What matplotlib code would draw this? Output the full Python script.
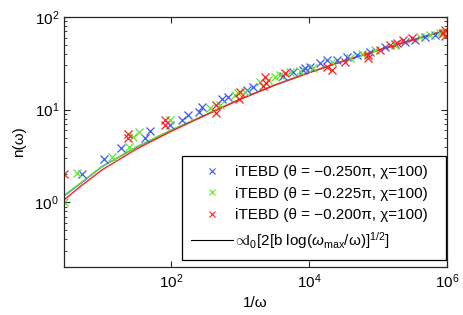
import numpy as np
import matplotlib
matplotlib.use('Agg')
import matplotlib.pyplot as plt
from matplotlib.lines import Line2D
from matplotlib.ticker import NullLocator

plt.rcParams['font.family'] = ['Liberation Sans', 'DejaVu Sans']
plt.rcParams['mathtext.fontset'] = 'custom'
plt.rcParams['mathtext.rm'] = 'Liberation Sans'
plt.rcParams['mathtext.it'] = 'Liberation Sans:italic'
plt.rcParams['mathtext.cal'] = 'Liberation Sans'

# iTEBD data, 1/omega vs n(omega)
blue_x = [5.13, 10.7, 18.8, 42.0, 49.6, 96.7, 144, 176, 254, 281, 548, 670, 1262, 1542,
          4200, 5860, 8190, 8750, 10300, 14400, 18200, 25500, 35600, 49600, 76600, 126000,
          176000, 246000, 344000, 480000, 670000, 875000]
blue_y = [2.0, 2.97, 3.90, 5.0, 5.95, 6.9, 7.8, 8.8, 9.5, 10.8, 13.1, 13.8, 16.4, 17.7,
          23.2, 25.6, 26.9, 28.3, 29.0, 32.0, 34.5, 34.5, 37.2, 39.0, 42.0, 47.6,
          51.3, 53.8, 56.6, 61.0, 64.0, 67.0]

green_x = [2.8, 4.35, 14.0, 24.6, 28.1, 34.4, 96.7, 367, 513, 847, 935, 1180, 1950, 2546,
           3215, 3800, 5310, 7410, 11400, 21500, 39300, 58600, 90600, 176000, 406000,
           568000, 793000, 936000]
green_y = [1.0, 2.05, 3.05, 4.0, 5.1, 5.8, 7.8, 10.5, 11.3, 14.5, 15.2, 15.6, 20.0, 21.0,
           22.6, 23.8, 25.6, 26.3, 28.3, 32.8, 36.3, 40.0, 44.0, 50.0, 61.0,
           64.0, 67.0, 69.0]

red_x = [2.8, 23.8, 23.8, 81.8, 81.8, 449, 449, 1000, 967, 2300, 2380, 2150, 4490,
         18200, 21500, 33200, 71600, 71600, 107000, 149000, 188000, 230000, 311000,
         875000, 936000, 936000]
red_y = [2.0, 5.5, 5.0, 7.8, 6.9, 11.3, 9.3, 15.6, 13.1, 22.6, 19.5, 18.1, 25.0,
         29.0, 26.9, 32.8, 39.0, 36.3, 44.0, 50.0, 52.5, 56.6, 59.4,
         67.0, 72.4, 62.5]

# fitted curves
curve_x = [2.8, 5, 10, 31.6, 100, 316, 1000, 3160, 1e4, 3.16e4, 1e5, 3.16e5, 1e6]
curve_blue = [1.17, 1.62, 2.43, 3.94, 5.97, 8.77, 13.0, 18.4, 25.1, 33.5, 43.7, 56.2, 72.4]
curve_green = [1.19, 1.64, 2.45, 3.98, 6.03, 8.81, 13.0, 18.4, 25.1, 33.5, 43.7, 56.2, 72.4]
curve_red = [1.06, 1.51, 2.24, 3.76, 5.82, 8.71, 12.9, 18.3, 25.0, 33.4, 43.7, 56.2, 72.8]

labels = ['iTEBD (θ = −0.250π, χ=100)',
          'iTEBD (θ = −0.225π, χ=100)',
          'iTEBD (θ = −0.200π, χ=100)']
fit_label = r'$\!\propto\!\!$I$_0$[2[b log($\omega_{\rm max}$/ω)]$^{1/2}$]'

c_blue = '#3a55ff'
c_green = '#5ee62a'
c_red = '#ff1f1f'

fig = plt.figure(figsize=(4.63, 3.15), dpi=100)
ax = fig.add_axes([0.138, 0.152, 0.827, 0.794])

ax.plot(curve_x, curve_blue, color=c_blue, lw=1.0)
ax.plot(curve_x, curve_green, color=c_green, lw=1.0)
ax.plot(curve_x, curve_red, color=c_red, lw=1.0)

ms = 5.5
ax.plot(blue_x, blue_y, 'x', color=c_blue, ms=ms, mew=0.9)
ax.plot(green_x, green_y, 'x', color=c_green, ms=ms, mew=0.9)
ax.plot(red_x, red_y, 'x', color=c_red, ms=ms, mew=0.9)

ax.set_xscale('log')
ax.set_yscale('log')
ax.set_xlim(2.8, 1e6)
ax.set_ylim(0.2, 100)
ax.set_xticks([1e2, 1e4, 1e6])
ax.xaxis.set_minor_locator(NullLocator())

ax.tick_params(which='both', direction='in', top=True, right=True, labelsize=11,
               color='0.15')
ax.tick_params(which='major', length=4, width=0.8)
ax.tick_params(which='minor', length=2.2, width=0.6)
for s in ax.spines.values():
    s.set_color('0.15')
    s.set_linewidth(0.9)

ax.set_xlabel('1/ω', fontsize=11, labelpad=4)
ax.set_ylabel('n(ω)', fontsize=11, labelpad=6)

handles = [Line2D([], [], ls='none', marker='x', color=c_blue, ms=4.5, mew=0.8),
           Line2D([], [], ls='none', marker='x', color=c_green, ms=4.5, mew=0.8),
           Line2D([], [], ls='none', marker='x', color=c_red, ms=4.5, mew=0.8),
           Line2D([], [], color='black', lw=0.8)]
leg = ax.legend(handles, labels + [fit_label], loc='lower left',
                bbox_to_anchor=(0.308, 0.028, 0.689, 0.0), mode='expand',
                borderaxespad=0, fontsize=11,
                frameon=True, fancybox=False, handlelength=2.75, handletextpad=0.15,
                labelspacing=0.5, borderpad=0.6)
leg.get_frame().set_edgecolor('black')
leg.get_frame().set_linewidth(0.9)
leg.get_frame().set_alpha(1)

fig.savefig('out.png', dpi=100)
